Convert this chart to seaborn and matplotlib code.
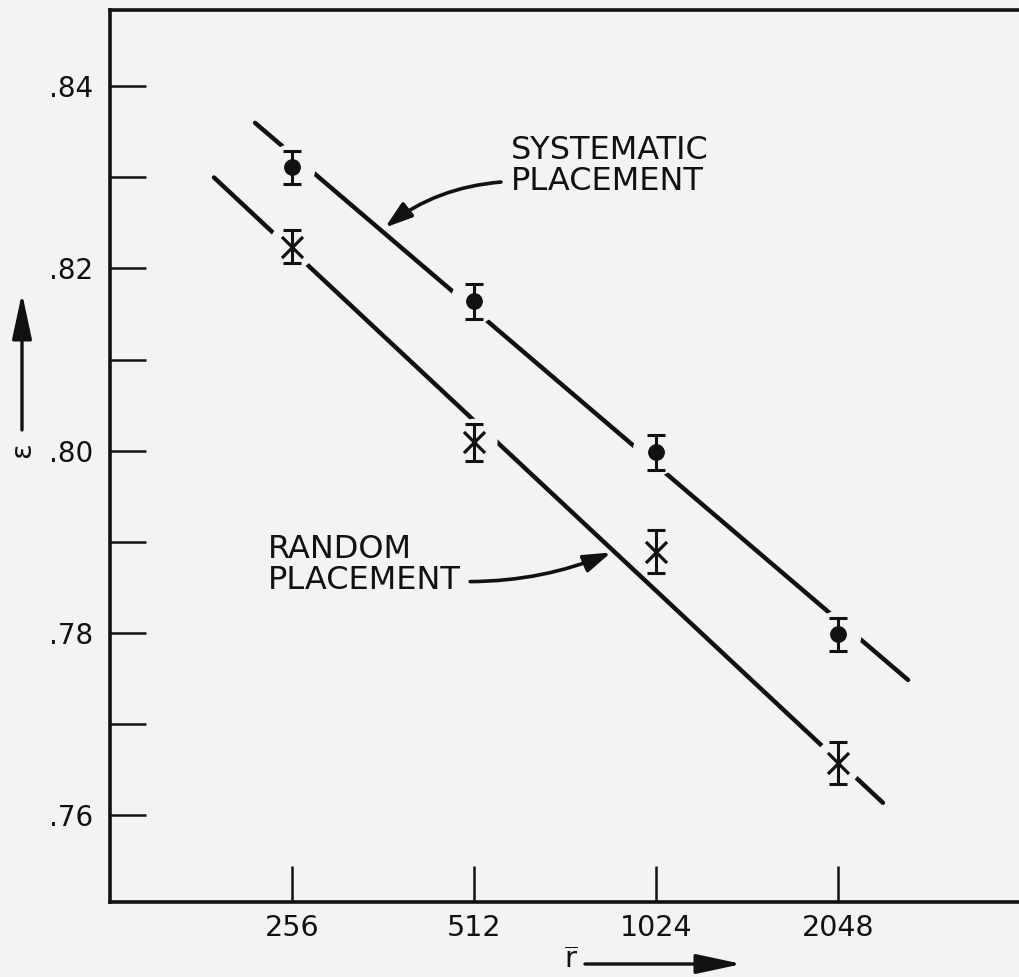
import numpy as np
import pandas as pd
import matplotlib
matplotlib.use("Agg")
import matplotlib.pyplot as plt
import seaborn as sns
from matplotlib.ticker import NullLocator

# --- Data ---
r_values = [256, 512, 1024, 2048]
eps_systematic = [0.8311, 0.8164, 0.7998, 0.7798]
err_systematic = [0.0018, 0.0019, 0.0019, 0.0018]
eps_random = [0.8224, 0.8009, 0.7889, 0.7657]
err_random = [0.0018, 0.0020, 0.0024, 0.0023]

# hand-drawn straight lines through the points (end points)
fit_sys_r = [222.4, 2674.0]
fit_sys_eps = [0.8360, 0.7748]
fit_rand_r = [190.2, 2430.0]
fit_rand_eps = [0.8300, 0.7613]

y_ticks = [0.76, 0.77, 0.78, 0.79, 0.80, 0.81, 0.82, 0.83, 0.84]
y_labels = [".76", "", ".78", "", ".80", "", ".82", "", ".84"]
x_ticks = [256, 512, 1024, 2048]
x_labels = ["256", "512", "1024", "2048"]

BG = "#f3f3f1"
INK = "#111111"

sns.set_style("ticks")
plt.rcParams["font.family"] = ["DejaVu Sans"]
plt.rcParams["mathtext.fontset"] = "dejavusans"

W, H = 1019, 977
fig = plt.figure(figsize=(W / 100, H / 100), dpi=100, facecolor=BG)
ax = fig.add_axes([110 / W, 75 / H, 910 / W, 892 / H])
ax.set_facecolor(BG)
ax.set_xscale("log", base=2)

# fitted lines
sns.lineplot(x=fit_sys_r, y=fit_sys_eps, ax=ax, color=INK, lw=3.2, zorder=2)
sns.lineplot(x=fit_rand_r, y=fit_rand_eps, ax=ax, color=INK, lw=3.2, zorder=2)

# blank out the line around each point, like the hand drawing
sns.scatterplot(x=r_values, y=eps_systematic, ax=ax, color=BG, s=1150,
                edgecolor="none", zorder=3)
sns.scatterplot(x=r_values, y=eps_random, ax=ax, color=BG, s=1150,
                edgecolor="none", zorder=3)

# error bars
for eps, err in [(eps_systematic, err_systematic), (eps_random, err_random)]:
    ax.errorbar(r_values, eps, yerr=err, fmt="none", ecolor=INK,
                elinewidth=2.2, capsize=6.5, capthick=2.2, zorder=4)

# markers
sns.scatterplot(x=r_values, y=eps_systematic, ax=ax, marker="o", s=125,
                color=INK, edgecolor=INK, zorder=5)
sns.scatterplot(x=r_values, y=eps_random, ax=ax, marker="x", s=230,
                color=INK, linewidth=2.3, zorder=5)

# axes styling
ax.set_xlim(128, 4096)
ax.set_ylim(0.7504, 0.8484)
ax.set_xticks(x_ticks)
ax.set_xticklabels(x_labels)
ax.xaxis.set_minor_locator(NullLocator())
ax.set_yticks(y_ticks)
ax.set_yticklabels(y_labels)
ax.tick_params(axis="x", direction="in", length=26, width=1.8, pad=9,
               labelsize=20.5, colors=INK)
ax.tick_params(axis="y", direction="in", length=26, width=1.8, pad=12,
               labelsize=20, colors=INK)
for side in ["left", "top", "bottom"]:
    ax.spines[side].set_linewidth(2.6)
    ax.spines[side].set_color(INK)
ax.spines["right"].set_visible(False)
ax.set_xlabel("")
ax.set_ylabel("")

# annotations
txt = dict(fontsize=23, color=INK, linespacing=1.0)
ax.text(589.5, 0.8313, "SYSTEMATIC\nPLACEMENT", ha="left", va="center", **txt)
ax.text(233.6, 0.7874, "RANDOM\nPLACEMENT", ha="left", va="center", **txt)

head = "-|>,head_length=0.55,head_width=0.18"
ax.annotate("", xy=(364.9, 0.8245), xytext=(567.4, 0.8295),
            arrowprops=dict(arrowstyle=head, color=INK, lw=2.6,
                            mutation_scale=30, shrinkA=0, shrinkB=0,
                            connectionstyle="arc3,rad=0.15"))
ax.annotate("", xy=(862.8, 0.7888), xytext=(504.6, 0.7856),
            arrowprops=dict(arrowstyle=head, color=INK, lw=2.6,
                            mutation_scale=30, shrinkA=0, shrinkB=0,
                            connectionstyle="arc3,rad=0.1"))

# axis names with arrows
fig.text(22 / W, 1 - 450 / H, "ε", rotation=90, ha="center", va="center",
         fontsize=21, color=INK)
ax.annotate("", xy=(22 / W, 1 - 293 / H), xytext=(22 / W, 1 - 430 / H),
            xycoords="figure fraction", textcoords="figure fraction",
            arrowprops=dict(arrowstyle="-|>,head_length=0.7,head_width=0.15",
                            color=INK, lw=2.4, mutation_scale=40,
                            shrinkA=0, shrinkB=0))
fig.text(571 / W, 1 - 960 / H, r"$\overline{\mathrm{r}}$", ha="center",
         va="center", fontsize=21, color=INK)
ax.annotate("", xy=(742 / W, 1 - 964 / H), xytext=(585 / W, 1 - 964 / H),
            xycoords="figure fraction", textcoords="figure fraction",
            arrowprops=dict(arrowstyle="-|>,head_length=0.7,head_width=0.15",
                            color=INK, lw=2.4, mutation_scale=40,
                            shrinkA=0, shrinkB=0))

fig.savefig("out.png", dpi=100, facecolor=BG)
